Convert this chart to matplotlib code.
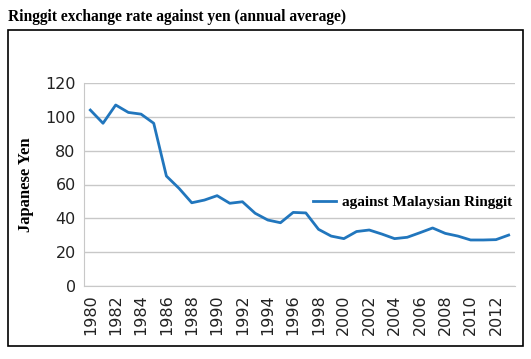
import matplotlib
matplotlib.use("Agg")
import matplotlib.pyplot as plt
from matplotlib.patches import Rectangle

years = list(range(1980, 2014))
yen = [104, 96.2, 107, 102.6, 101.6, 96.2, 65, 57.7, 49.2, 50.8, 53.4, 48.9, 49.8,
       43, 39, 37.4, 43.5, 43.2, 33.5, 29.5, 28, 32.2, 33.1, 30.7, 28, 28.8, 31.5,
       34.3, 31.1, 29.5, 27.2, 27.2, 27.4, 30.1]
tick_years = list(range(1980, 2013, 2))
yticks = [0, 20, 40, 60, 80, 100, 120]

W, H = 531, 359
fig = plt.figure(figsize=(W/100, H/100), dpi=100)

# outer frame
fig.patches.append(Rectangle((8/W, 1-346/H), (523-8)/W, (346-30)/H,
                             transform=fig.transFigure, fill=False,
                             edgecolor='black', linewidth=1.2))
fig.text(8/W, 1-17/H, "Ringgit exchange rate against yen (annual average)",
         family='Liberation Serif', weight='bold', fontsize=11.2, va='center', ha='left')

ax = fig.add_axes([84/W, 1-286/H, (515-84)/W, (286-83)/H])
ax.plot(years, yen, color='#2176bd', linewidth=2, label='against Malaysian Ringgit')
ax.set_xlim(1979.5, 2013.5)
ax.set_ylim(0, 120)
ax.set_yticks(yticks)
ax.set_xticks(tick_years)
ax.set_xticklabels([str(y) for y in tick_years], rotation=90)
ax.tick_params(axis='both', length=0, labelsize=11.5, colors='#222222', pad=6)
ax.yaxis.grid(True, color='#c8c8c8', linewidth=1)
ax.set_axisbelow(True)
for s in ['top', 'right']:
    ax.spines[s].set_visible(False)
for s in ['left', 'bottom']:
    ax.spines[s].set_color('#c8c8c8')
ax.set_ylabel("Japanese Yen", family='Liberation Serif', weight='bold', fontsize=12, labelpad=8)
leg = ax.legend(loc='center left', bbox_to_anchor=((307-84)/(515-84), (286-202)/(286-83)),
                frameon=False, prop={'family': 'Liberation Serif', 'weight': 'bold', 'size': 11},
                handlelength=1.5, handletextpad=0.4, borderaxespad=0)
fig.savefig("out.png", dpi=100)
